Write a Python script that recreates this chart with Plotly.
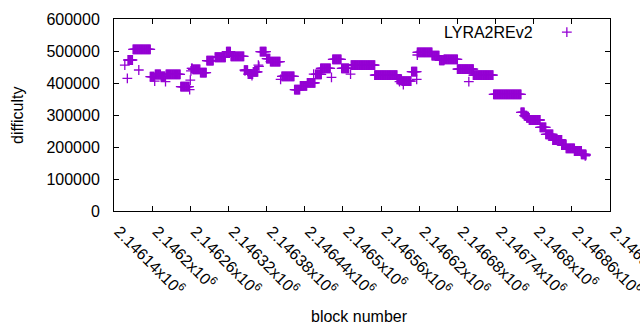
import plotly.graph_objects as go

# ---- data ----
# runs of consecutive blocks sharing the same difficulty
run_first = [2146162, 2146170, 2146197, 2146205, 2146214, 2146222, 2146245, 2146262,
             2146264, 2146276, 2146286, 2146299, 2146317, 2146324, 2146345, 2146351,
             2146359, 2146370, 2146380, 2146386, 2146404, 2146424, 2146433, 2146444,
             2146457, 2146465, 2146484, 2146498, 2146513, 2146550, 2146585, 2146593,
             2146608, 2146617, 2146640, 2146652, 2146659, 2146680, 2146705, 2146737,
             2146780, 2146785, 2146789, 2146793, 2146810, 2146819, 2146830, 2146844,
             2146851, 2146864, 2146875]
run_last = [2146169, 2146197, 2146203, 2146213, 2146220, 2146244, 2146258, 2146263,
            2146275, 2146285, 2146296, 2146315, 2146323, 2146344, 2146350, 2146358,
            2146366, 2146379, 2146385, 2146401, 2146423, 2146432, 2146443, 2146456,
            2146466, 2146480, 2146497, 2146509, 2146550, 2146585, 2146592, 2146607,
            2146616, 2146640, 2146651, 2146659, 2146680, 2146705, 2146736, 2146780,
            2146785, 2146789, 2146793, 2146810, 2146819, 2146830, 2146844, 2146851,
            2146864, 2146875, 2146882]
run_diff = [471900, 505300, 420000, 426500, 421000, 427000, 388500, 446000,
            442700, 432300, 470000, 480500, 497800, 483300, 440000, 428000,
            435000, 497800, 476000, 467000, 420500, 379000, 391000, 400500,
            427000, 446000, 474000, 446000, 455600, 424500, 411500, 406000,
            435400, 496000, 485300, 470900, 474000, 443500, 424500, 364600,
            308400, 298000, 291000, 284400, 261500, 239600, 221900, 206000,
            195800, 187500, 177000]
# isolated blocks
single_block = [2146161, 2146204, 2146221, 2146259, 2146260, 2146261, 2146157, 2146179,
                2146346, 2146357, 2146367, 2146368, 2146402, 2146454, 2146482, 2146512,
                2146589, 2146595, 2146616, 2146617, 2146698, 2146881, 2146882]
single_diff = [414700, 406000, 404000, 379000, 409000, 438000, 456000, 440600,
               438000, 423000, 456000, 452000, 411500, 428000, 417700, 428000,
               404000, 395000, 411500, 487500, 404000, 172000, 174000]

x_tickvals = [2146140 + 60 * i for i in range(14)]
x_ticktext = ["2.14614", "2.1462", "2.14626", "2.14632", "2.14638", "2.14644", "2.1465",
              "2.14656", "2.14662", "2.14668", "2.14674", "2.1468", "2.14686", "2.14692"]
y_tickvals = [0, 100000, 200000, 300000, 400000, 500000, 600000]
y_ticktext = ["0", "100000", "200000", "300000", "400000", "500000", "600000"]
series_name = "LYRA2REv2"

# ---- build points ----
blocks, diffs = [], []
for f, l, d in zip(run_first, run_last, run_diff):
    for b in range(f, l + 1):
        blocks.append(b)
        diffs.append(d)
blocks += single_block
diffs += single_diff

COLOR = "#9400d3"
FONT = "Liberation Sans, Arial, sans-serif"
FS = 16

marker = dict(symbol="cross-thin", size=7, line=dict(color=COLOR, width=1.3), color=COLOR)

fig = go.Figure()
fig.add_trace(go.Scatter(x=blocks, y=diffs, mode="markers", showlegend=False, marker=marker,
                         hoverinfo="skip"))
# legend sample marker on an overlay axis
fig.add_trace(go.Scatter(x=[0.913], y=[0.932], xaxis="x2", yaxis="y2", mode="markers",
                         showlegend=False, marker=marker, hoverinfo="skip"))

axis_common = dict(showgrid=False, zeroline=False, showline=True, linecolor="black",
                   linewidth=1, mirror="ticks", ticks="inside", ticklen=5, automargin=False,
                   tickcolor="black", tickfont=dict(family=FONT, size=FS, color="black"))

fig.update_layout(
    width=640, height=330,
    margin=dict(l=114, r=30, t=19, b=119, autoexpand=False),
    paper_bgcolor="white", plot_bgcolor="white",
    font=dict(family=FONT, size=FS, color="black"),
    xaxis=dict(range=[2146140, 2146920], tickmode="array", tickvals=x_tickvals,
               ticktext=[t + "x10<sup>6</sup>" for t in x_ticktext], tickangle=45,
               ticklabelstandoff=4, ticklabelshift=5, ticklabeloverflow="allow",
               **axis_common),
    yaxis=dict(range=[0, 600000], tickmode="array", tickvals=y_tickvals,
               ticktext=y_ticktext, ticklabelstandoff=10, **axis_common),
    xaxis2=dict(range=[0, 1], overlaying="x", visible=False, automargin=False),
    yaxis2=dict(range=[0, 1], overlaying="y", visible=False, automargin=False),
    annotations=[
        dict(text=series_name, xref="paper", yref="paper", x=(535 - 114) / 496,
             y=(211 - 32) / 192, xanchor="right", yanchor="middle", showarrow=False,
             font=dict(family=FONT, size=FS, color="black")),
        dict(text="difficulty", xref="paper", yref="paper", x=(17 - 114) / 496,
             y=(211 - 115) / 192, xanchor="center", yanchor="middle", textangle=-90,
             showarrow=False, font=dict(family=FONT, size=FS, color="black")),
        dict(text="block number", xref="paper", yref="paper", x=(359 - 114) / 496,
             y=(211 - 316) / 192, xanchor="center", yanchor="middle",
             showarrow=False, font=dict(family=FONT, size=FS, color="black")),
    ],
)

fig.write_html("out.html", config={"displayModeBar": False, "staticPlot": True},
               post_script="document.body.style.margin='0';document.body.style.overflow='hidden';")
